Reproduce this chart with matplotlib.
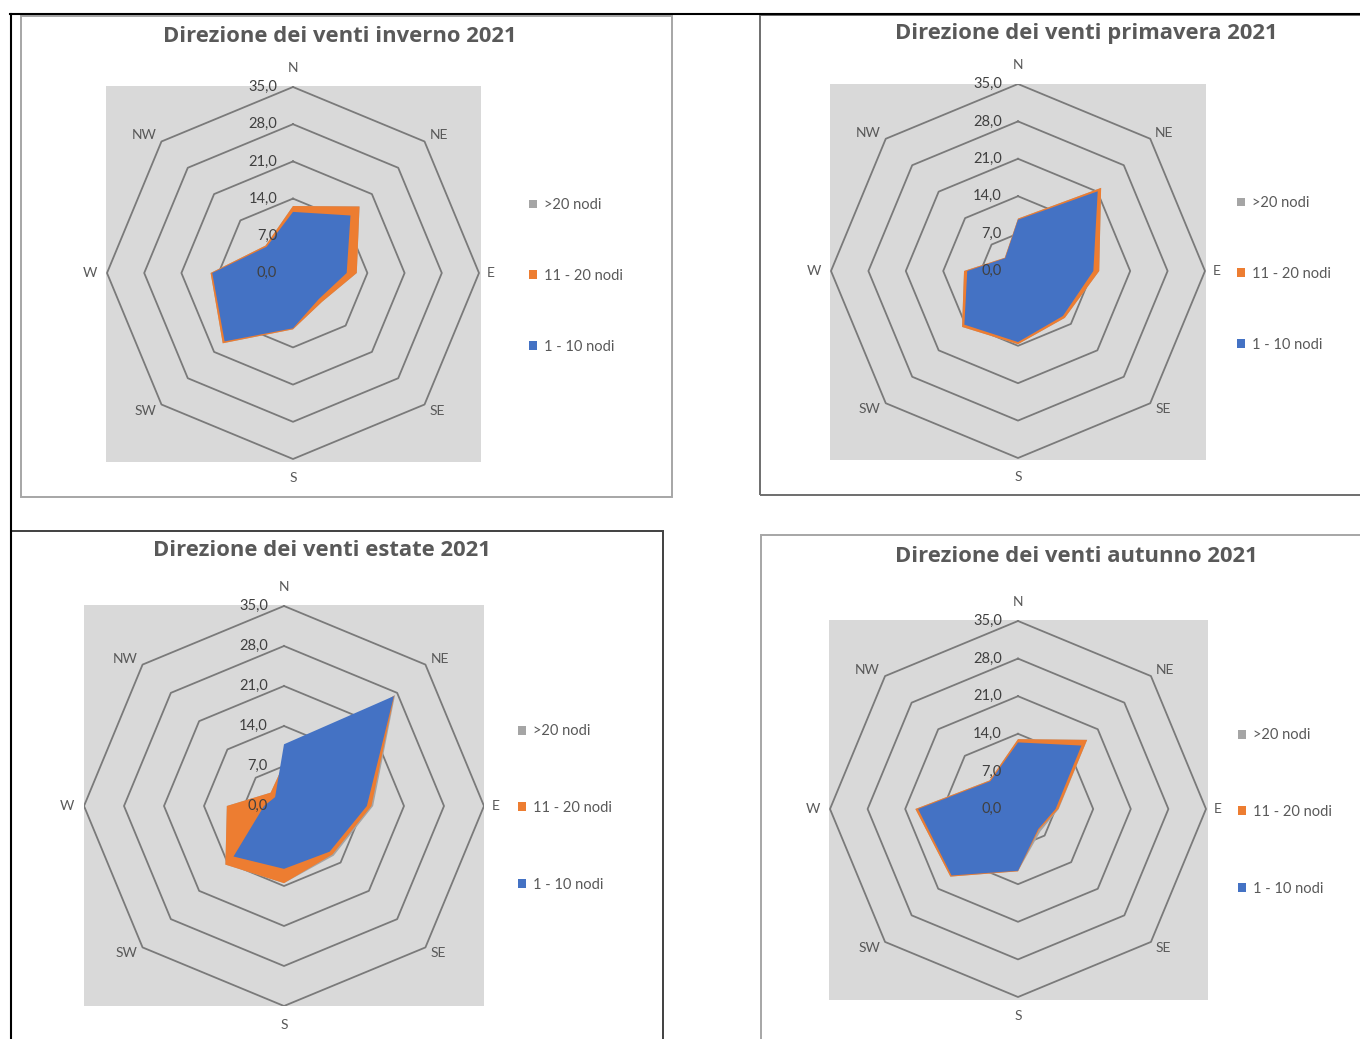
import numpy as np
import matplotlib
matplotlib.use("Agg")
import matplotlib.pyplot as plt
from matplotlib.patches import Rectangle
from matplotlib.lines import Line2D

plt.rcParams['font.family'] = ['Lato', 'DejaVu Sans']

# ---------------- data ----------------
directions = ["N", "NE", "E", "SE", "S", "SW", "W", "NW"]
series_names = [">20 nodi", "11 - 20 nodi", "1 - 10 nodi"]
ring_values = [0.0, 7.0, 14.0, 21.0, 28.0, 35.0]
ring_labels = ["0,0", "7,0", "14,0", "21,0", "28,0", "35,0"]

titles = ["Direzione dei venti inverno 2021",
          "Direzione dei venti primavera 2021",
          "Direzione dei venti estate 2021",
          "Direzione dei venti autunno 2021"]

inverno_gt20 = [12.6, 17.7, 12.0, 7.7, 10.6, 18.7, 15.5, 7.3]
inverno_11_20 = [12.6, 17.7, 12.0, 7.7, 10.6, 18.7, 15.5, 7.3]
inverno_1_10 = [11.5, 15.3, 10.1, 6.9, 10.4, 18.2, 15.2, 7.0]

primavera_gt20 = [9.8, 22.0, 15.2, 12.4, 13.7, 14.8, 10.1, 3.5]
primavera_11_20 = [9.8, 22.0, 15.2, 12.4, 13.7, 14.8, 10.1, 3.5]
primavera_1_10 = [9.6, 21.1, 14.1, 11.9, 13.3, 14.2, 9.5, 3.4]

estate_gt20 = [7.4, 27.5, 15.6, 12.3, 13.5, 14.5, 10.0, 3.3]
estate_11_20 = [7.4, 27.3, 15.3, 12.0, 13.5, 14.5, 10.0, 3.3]
estate_1_10 = [10.8, 27.2, 14.5, 11.3, 11.0, 12.5, 3.5, 2.2]

autunno_gt20 = [13.0, 18.2, 7.6, 5.9, 11.6, 17.8, 19.1, 7.5]
autunno_11_20 = [13.0, 18.2, 7.5, 5.5, 11.6, 17.8, 19.1, 7.5]
autunno_1_10 = [12.4, 16.7, 7.0, 5.3, 11.5, 17.5, 18.6, 7.3]

all_series = [
    [inverno_gt20, inverno_11_20, inverno_1_10],
    [primavera_gt20, primavera_11_20, primavera_1_10],
    [estate_gt20, estate_11_20, estate_1_10],
    [autunno_gt20, autunno_11_20, autunno_1_10],
]

# ---------------- style / layout ----------------
colors = ["#a5a5a5", "#ed7d31", "#4472c4"]
text_col = "#595959"
grid_col = "#7a7a7a"
plot_bg = "#d9d9d9"
W, H = 1360, 1039
RMAX = 35.0

# per panel: center (px), radius of 35-ring (px), plot-area box (px),
# title pos, legend anchor, legend spacing
panels = [
    dict(c=(293, 273), R=186, box=(106, 86, 481, 462), title=(340, 36), leg=(529, 276), sp=3.9),
    dict(c=(1018, 271), R=187, box=(830, 84, 1206, 460), title=(1086, 34), leg=(1237, 274), sp=3.9),
    dict(c=(284, 806), R=200, box=(84, 605, 484, 1006), title=(322, 551), leg=(518, 808), sp=4.3),
    dict(c=(1018, 809), R=188, box=(829, 620, 1208, 1000), title=(1076, 556), leg=(1238, 812), sp=4.3),
]

# label alignment per direction: (dx px, dy px, ha, va)
label_align = [(0, 13, "center", "bottom"), (5, 0, "left", "bottom"),
               (8, 0, "left", "center"), (5, 0, "left", "top"),
               (0, -13, "center", "top"), (-5, 0, "right", "top"),
               (-10, 0, "right", "center"), (-5, 0, "right", "bottom")]

fig = plt.figure(figsize=(W / 100, H / 100), dpi=100)
fig.patch.set_facecolor("white")


def fx(x):
    return x / W


def fy(y):
    return 1 - y / H


# table / chart frames
fig.add_artist(Line2D([fx(10), fx(1360)], [fy(14), fy(14)], color="black", lw=1.5, transform=fig.transFigure))
fig.add_artist(Line2D([fx(11), fx(11)], [fy(14), fy(1039)], color="black", lw=1.5, transform=fig.transFigure))
frames = [((21, 16), (672, 497), "#a6a6a6"),
          ((760, 15), (1400, 495), "#6e6e6e"),
          ((11, 531), (663, 1100), "#404040"),
          ((761, 535), (1400, 1100), "#a6a6a6")]
for (x0, y0), (x1, y1), col in frames:
    fig.add_artist(Rectangle((fx(x0), fy(y1)), fx(x1) - fx(x0), fy(y0) - fy(y1),
                             fill=False, edgecolor=col, lw=1.4, transform=fig.transFigure,
                             clip_on=False))

theta = np.deg2rad(np.arange(len(directions)) * 360.0 / len(directions))


def to_xy(vals):
    v = np.asarray(vals, dtype=float)
    return v * np.sin(theta), v * np.cos(theta)


for p, title, series in zip(panels, titles, all_series):
    cx, cy = p["c"]
    R = p["R"]
    x0, y0, x1, y1 = p["box"]
    upp = RMAX / R
    ax = fig.add_axes([fx(x0), fy(y1), (x1 - x0) / W, (y1 - y0) / H])
    ax.set_facecolor(plot_bg)
    ax.set_xlim(-(cx - x0) * upp, (x1 - cx) * upp)
    ax.set_ylim(-(y1 - cy) * upp, (cy - y0) * upp)
    ax.set_aspect("auto")
    for s in ax.spines.values():
        s.set_visible(False)
    ax.set_xticks([])
    ax.set_yticks([])

    # octagonal grid
    for rv in ring_values[1:]:
        gx, gy = to_xy([rv] * len(directions))
        ax.plot(np.append(gx, gx[0]), np.append(gy, gy[0]), color=grid_col, lw=1.3, zorder=1)

    handles = []
    for vals, col, name in zip(series, colors, series_names):
        px_, py_ = to_xy(vals)
        h = ax.fill(px_, py_, color=col, lw=0, zorder=2, label=name)[0]
        handles.append(h)

    # value labels on N axis
    for rv, lab in zip(ring_values, ring_labels):
        ax.text(-16 * upp, rv, lab, ha="right", va="center", fontsize=10.5,
                color="#404040", zorder=3)

    # category labels
    vx, vy = to_xy([RMAX] * len(directions))
    for d, xx, yy, (dx, dy, ha, va) in zip(directions, vx, vy, label_align):
        ax.annotate(d, xy=(xx, yy), xytext=(dx * 0.72, dy * 0.72), textcoords="offset points",
                    ha=ha, va=va, fontsize=10, color=text_col, annotation_clip=False)

    fig.text(fx(p["title"][0]), fy(p["title"][1]), title, ha="center", va="center",
             fontsize=15.8, fontweight="bold", color=text_col, family=["Open Sans", "DejaVu Sans"])

    lgx, lgy = p["leg"]
    ax.legend(handles=handles, loc="center left",
              bbox_to_anchor=(fx(lgx), fy(lgy)), bbox_transform=fig.transFigure,
              frameon=False, fontsize=10.5, labelcolor=text_col,
              handlelength=0.55, handleheight=0.55, handletextpad=0.45,
              labelspacing=p["sp"], borderpad=0, borderaxespad=0)

fig.savefig("out.png", dpi=100, facecolor="white")
